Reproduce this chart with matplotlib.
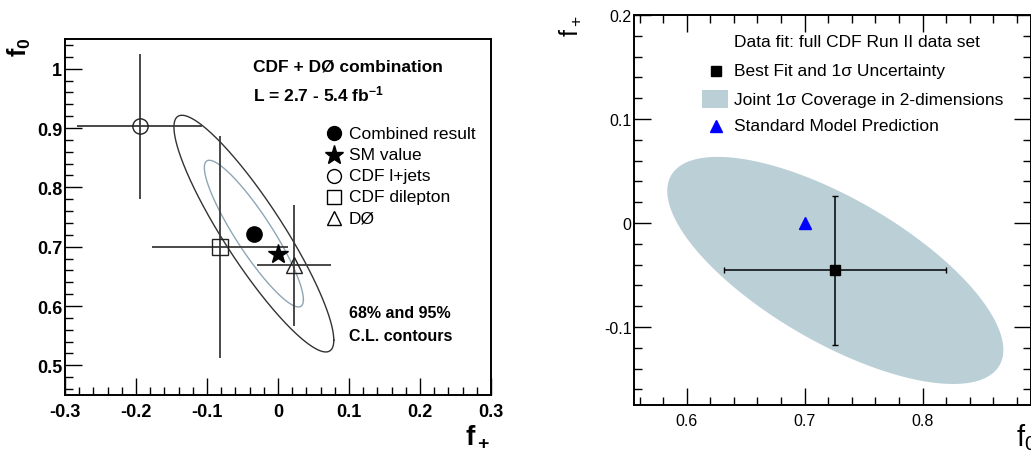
import numpy as np
import matplotlib
matplotlib.use("Agg")
import matplotlib.pyplot as plt
from matplotlib.ticker import MultipleLocator, FormatStrFormatter
from matplotlib.patches import Rectangle

plt.rcParams['font.family'] = ['Liberation Sans', 'DejaVu Sans']
plt.rcParams['axes.unicode_minus'] = False
plt.rcParams['mathtext.fontset'] = 'custom'
plt.rcParams['mathtext.rm'] = 'Liberation Sans'
plt.rcParams['mathtext.bf'] = 'Liberation Sans:bold'
plt.rcParams['mathtext.it'] = 'Liberation Sans:italic'

# --- left panel: CDF + DØ combination (x = f+, y = f0)
meas_names = ['CDF l+jets', 'CDF dilepton', 'DØ']
meas_markers = ['o', 's', '^']
meas_fp = [-0.195, -0.082, 0.023]
meas_fp_err = [0.088, 0.096, 0.052]
meas_f0 = [0.903, 0.699, 0.669]
meas_f0_err = [0.122, 0.187, 0.102]

comb_fp, comb_f0 = -0.034, 0.722
comb_sig_fp, comb_sig_f0, comb_rho = 0.046, 0.0815, -0.90
sm_fp, sm_f0 = 0.0, 0.688
cl_levels = [2.30, 5.99]          # 68% and 95% for 2 d.o.f.
cl_colors = ['#8fa6b4', '#333333']

# --- right panel: CDF full Run II fit (x = f0, y = f+)
fit_f0, fit_fp = 0.726, -0.0456
fit_f0_err, fit_fp_err = 0.094, 0.072
fit_rho = -0.70
sm2_f0, sm2_fp = 0.700, 0.0

W, H = 1031, 460


def ellipse(cx, cy, sx, sy, rho, chi2):
    t = np.linspace(0, 2 * np.pi, 400)
    k = np.sqrt(chi2)
    x = cx + k * sx * np.cos(t)
    y = cy + k * sy * (rho * np.cos(t) + np.sqrt(1 - rho ** 2) * np.sin(t))
    return x, y


fig = plt.figure(figsize=(W / 100, H / 100), dpi=100)

# left axes: pixel frame x 65..491, y 40..396
L = (65, 40, 491, 396)
ax1 = fig.add_axes([L[0] / W, 1 - L[3] / H, (L[2] - L[0]) / W, (L[3] - L[1]) / H])
# right axes: pixel frame x 634..1031, y 16..406
R = (634.3, 16, 1031, 406)
ax2 = fig.add_axes([R[0] / W, 1 - R[3] / H, (R[2] - R[0]) / W, (R[3] - R[1]) / H])


def lpos(px, py):
    return (px - L[0]) / (L[2] - L[0]), (L[3] - py) / (L[3] - L[1])


def rpos(px, py):
    return (px - R[0]) / (R[2] - R[0]), (R[3] - py) / (R[3] - R[1])


# ---- left panel
for lev, col in zip(cl_levels, cl_colors):
    ex, ey = ellipse(comb_fp, comb_f0, comb_sig_fp, comb_sig_f0, comb_rho, lev)
    ax1.plot(ex, ey, color=col, lw=1.0, zorder=2)

for i in range(len(meas_names)):
    ax1.errorbar(meas_fp[i], meas_f0[i], xerr=meas_fp_err[i], yerr=meas_f0_err[i],
                 fmt='none', ecolor='#3a3a3a', elinewidth=1.3, capsize=0, zorder=3)
    ax1.plot(meas_fp[i], meas_f0[i], marker=meas_markers[i], ms=11, mfc='none',
             mec='#222222', mew=1.0, ls='none', zorder=4)

ax1.plot(comb_fp, comb_f0, 'o', color='black', ms=11, zorder=5)
ax1.plot(sm_fp, sm_f0, '*', color='black', ms=15, zorder=5)

ax1.set_xlim(-0.3, 0.3)
ax1.set_ylim(0.45, 1.05)
ax1.xaxis.set_major_locator(MultipleLocator(0.1))
ax1.xaxis.set_minor_locator(MultipleLocator(0.02))
ax1.yaxis.set_major_locator(MultipleLocator(0.1))
ax1.yaxis.set_minor_locator(MultipleLocator(0.02))
ax1.xaxis.set_major_formatter(FormatStrFormatter('%g'))
ax1.yaxis.set_major_formatter(FormatStrFormatter('%g'))
ax1.tick_params(which='both', direction='in', top=False, right=False, width=1.0)
ax1.tick_params(which='major', length=12)
ax1.tick_params(which='minor', length=6)
ax1.tick_params(axis='x', pad=6)
ax1.tick_params(axis='y', pad=2)
for lab in ax1.get_xticklabels() + ax1.get_yticklabels():
    lab.set_fontweight('bold')
    lab.set_fontsize(13)
for s in ax1.spines.values():
    s.set_linewidth(1.4)

leg_rows = [134.3, 155.7, 176.7, 197.7, 219]
leg_labels = ['Combined result', 'SM value'] + meas_names
leg_mk = [('o', 'black', 10), ('*', 'black', 14), ('o', 'none', 10),
          ('s', 'none', 10), ('^', 'none', 10)]
for py, lab, (m, fc, ms) in zip(leg_rows, leg_labels, leg_mk):
    mx, my = lpos(334, py)
    ax1.plot(mx, my, marker=m, mfc=fc, mec='black', mew=1.0, ms=ms,
             transform=ax1.transAxes, clip_on=False)
    tx, ty = lpos(349, py)
    ax1.text(tx, ty, lab, transform=ax1.transAxes, fontsize=12.5, va='center', ha='left')

tx, ty = lpos(253, 66.7)
ax1.text(tx, ty, 'CDF + DØ combination', transform=ax1.transAxes, fontsize=12.5,
         fontweight='bold', va='center')
tx, ty = lpos(253, 94)
ax1.text(tx, ty, r'L = 2.7 - 5.4 fb$^{\mathbf{-1}}$', transform=ax1.transAxes,
         fontsize=12.5, fontweight='bold', va='center')
tx, ty = lpos(349, 313.3)
ax1.text(tx, ty, '68% and 95%', transform=ax1.transAxes, fontsize=11.5,
         fontweight='bold', va='center')
tx, ty = lpos(349, 336.7)
ax1.text(tx, ty, 'C.L. contours', transform=ax1.transAxes, fontsize=11.5,
         fontweight='bold', va='center')

fig.text(19 / W, 1 - 47 / H, r'$\mathbf{f_0}$', rotation=90, fontsize=18,
         ha='center', va='center')
fig.text(478 / W, 1 - 437 / H, r'$\mathbf{f_+}$', fontsize=20, ha='center', va='center')

# ---- right panel
ex, ey = ellipse(fit_f0, fit_fp, fit_f0_err, fit_fp_err, fit_rho, cl_levels[0])
ax2.fill(ex, ey, color='#bbcfd6', lw=0, zorder=1)
ax2.errorbar(fit_f0, fit_fp, xerr=fit_f0_err, yerr=fit_fp_err, fmt='s', color='black',
             ms=7, elinewidth=1.1, capsize=2, capthick=1.0, zorder=3)
ax2.plot(sm2_f0, sm2_fp, '^', color='#0000ff', ms=9, zorder=4)

ax2.set_xlim(0.5555, 0.892)
ax2.set_ylim(-0.175, 0.2)
ax2.xaxis.set_major_locator(MultipleLocator(0.1))
ax2.xaxis.set_minor_locator(MultipleLocator(0.02))
ax2.yaxis.set_major_locator(MultipleLocator(0.1))
ax2.yaxis.set_minor_locator(MultipleLocator(0.02))
ax2.xaxis.set_major_formatter(FormatStrFormatter('%g'))
ax2.yaxis.set_major_formatter(FormatStrFormatter('%g'))
ax2.tick_params(which='both', direction='in', top=True, right=True, width=1.0,
                labelsize=11.5)
ax2.tick_params(which='major', length=12)
ax2.tick_params(which='minor', length=6)
ax2.tick_params(axis='x', pad=6)
ax2.tick_params(axis='y', pad=2)
for s in ax2.spines.values():
    s.set_linewidth(1.4)

r_rows = [42.3, 71.7, 100, 126.7]
r_labels = ['Data fit: full CDF Run II data set', 'Best Fit and 1σ Uncertainty',
            'Joint 1σ Coverage in 2-dimensions', 'Standard Model Prediction']
for py, lab in zip(r_rows, r_labels):
    tx, ty = rpos(734.3, py)
    ax2.text(tx, ty, lab, transform=ax2.transAxes, fontsize=12.5, va='center', ha='left')
mx, my = rpos(716, r_rows[1])
ax2.plot(mx, my, 's', color='black', ms=7, transform=ax2.transAxes)
mx, my = rpos(716, r_rows[3])
ax2.plot(mx, my, '^', color='#0000ff', ms=9, transform=ax2.transAxes)
px0, py0 = rpos(702.3, 109)
px1, py1 = rpos(728.3, 90.7)
ax2.add_patch(Rectangle((px0, py0), px1 - px0, py1 - py0, transform=ax2.transAxes,
                        facecolor='#bbcfd6', edgecolor='none'))

fig.text(570 / W, 1 - 26 / H, r'$\mathrm{f_+}$', rotation=90, fontsize=18,
         ha='center', va='center')
fig.text(1026 / W, 1 - 438 / H, r'$\mathrm{f_0}$', fontsize=21, ha='center', va='center')

fig.savefig('out.png', dpi=100)
